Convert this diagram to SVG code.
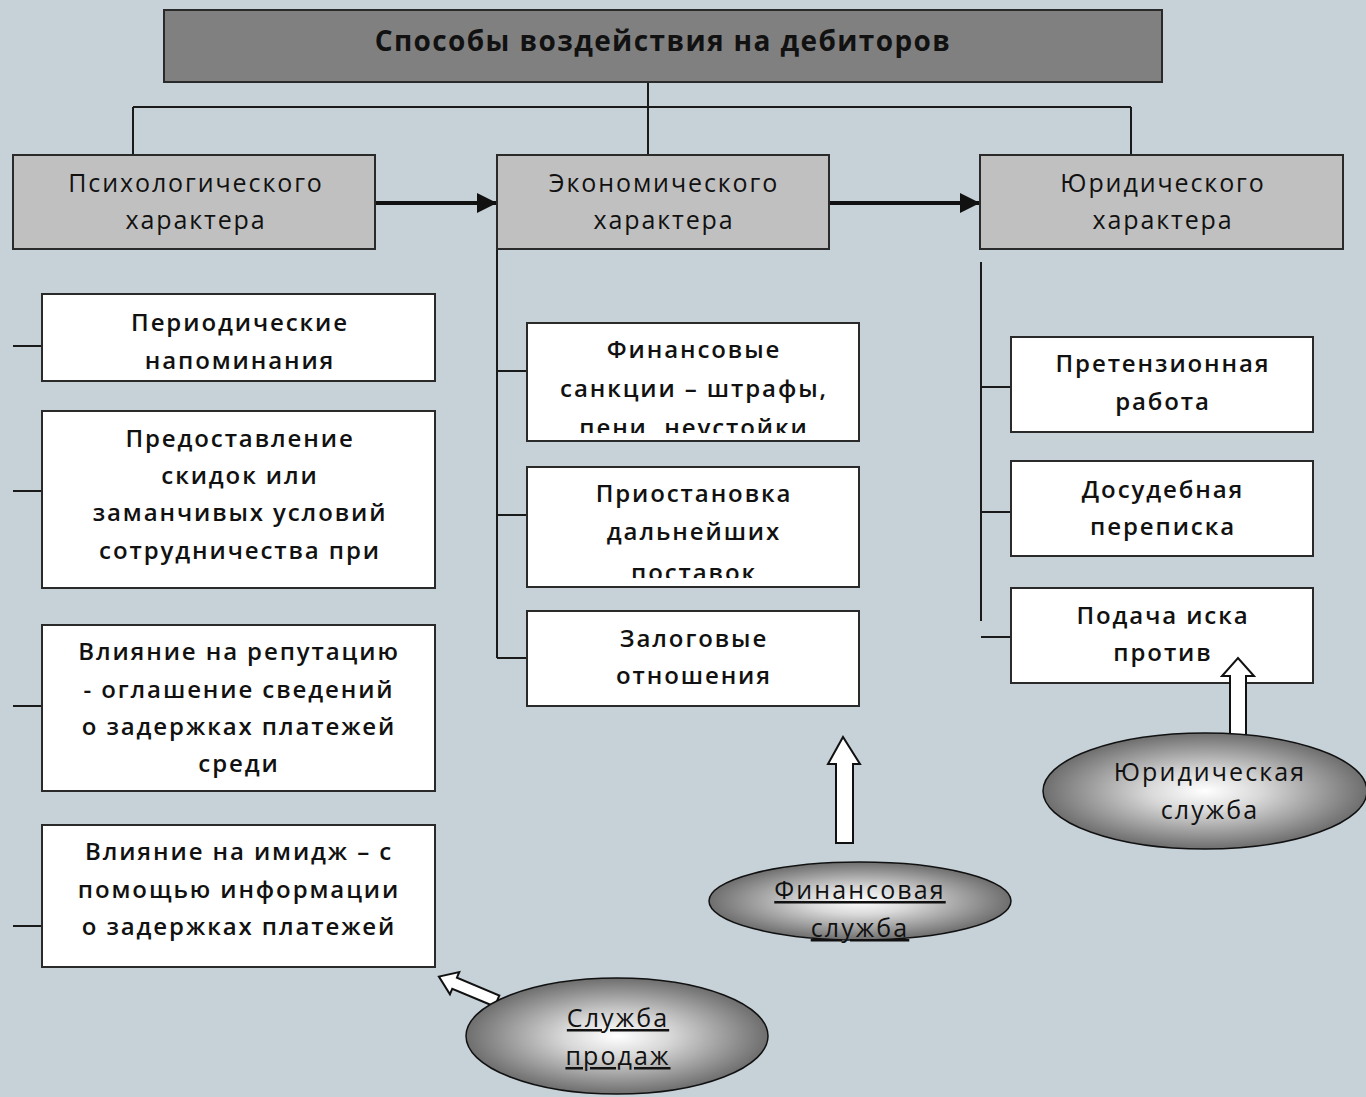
<svg xmlns="http://www.w3.org/2000/svg" width="1366" height="1097" viewBox="0 0 1366 1097">
<style>
.bg{fill:#c6d1d8}
.box{fill:#ffffff;stroke:#2a2a2a;stroke-width:2}
.cat{fill:#c0c0c0;stroke:#2a2a2a;stroke-width:2}
.ttl{fill:#808080;stroke:#2a2a2a;stroke-width:2}
.t{font-family:"Open Sans","DejaVu Sans",sans-serif;font-size:24px;font-weight:600;fill:#111;text-anchor:middle;letter-spacing:1.9px}
.tc{font-family:"Open Sans","DejaVu Sans",sans-serif;font-size:25px;font-weight:400;fill:#111;text-anchor:middle;letter-spacing:1.9px}
.th{font-family:"Open Sans","DejaVu Sans",sans-serif;font-size:28px;font-weight:700;fill:#111;text-anchor:middle;letter-spacing:1.4px}
.te{font-family:"Open Sans","DejaVu Sans",sans-serif;font-size:25px;font-weight:400;fill:#111;text-anchor:middle;letter-spacing:2.1px}
.u{text-decoration:underline}
.ln{stroke:#1a1a1a;stroke-width:2;fill:none}
.thick{stroke:#111;stroke-width:4;fill:none}
.ell{fill:url(#rg);stroke:#111;stroke-width:1.5}
.blk{fill:#ffffff;stroke:#111;stroke-width:2;stroke-linejoin:miter}
</style>
<defs>
<radialGradient id="rg" cx="50%" cy="50%" r="50%">
<stop offset="0" stop-color="#ffffff"/>
<stop offset="0.35" stop-color="#d8d8d8"/>
<stop offset="1" stop-color="#6e6e6e"/>
</radialGradient>
<marker id="ah" viewBox="0 0 10 10" refX="10" refY="5" markerWidth="5" markerHeight="5" orient="auto" markerUnits="strokeWidth">
<path d="M0,0 L10,5 L0,10 Z" fill="#111"/>
</marker>
<clipPath id="c1"><rect x="527" y="323" width="332" height="110"/></clipPath>
<clipPath id="c2"><rect x="527" y="467" width="332" height="111"/></clipPath>
</defs>
<rect class="bg" x="0" y="0" width="1366" height="1097"/>

<g id="connectors">
<path class="ln" d="M648,82 V107 M133,107 H1131 M133,107 V155 M648,107 V155 M1131,107 V155"/>
<path class="ln" d="M13,346 H42 M13,491 H42 M13,706 H42 M13,926 H42"/>
<path class="ln" d="M497,249 V658 M497,371 H527 M497,515 H527 M497,658 H527"/>
<path class="ln" d="M981,262 V621 M981,387 H1011 M981,512 H1011 M981,637 H1011"/>
<line class="thick" x1="375" y1="203" x2="497" y2="203" marker-end="url(#ah)"/>
<line class="thick" x1="829" y1="203" x2="980" y2="203" marker-end="url(#ah)"/>
</g>

<g id="title">
<rect class="ttl" x="164" y="10" width="998" height="72"/>
<text class="th" x="663" y="51">Способы воздействия на дебиторов</text>
</g>

<g id="psych">
<rect class="cat" x="13" y="155" width="362" height="94"/>
<text class="tc" x="196" y="192">Психологического</text>
<text class="tc" x="196" y="229">характера</text>
</g>
<g id="econ">
<rect class="cat" x="497" y="155" width="332" height="94"/>
<text class="tc" x="664" y="192">Экономического</text>
<text class="tc" x="664" y="229">характера</text>
</g>
<g id="jur">
<rect class="cat" x="980" y="155" width="363" height="94"/>
<text class="tc" x="1163" y="192">Юридического</text>
<text class="tc" x="1163" y="229">характера</text>
</g>

<g id="p1">
<rect class="box" x="42" y="294" width="393" height="87"/>
<text class="t" x="240" y="331">Периодические</text>
<text class="t" x="240" y="369">напоминания</text>
</g>
<g id="p2">
<rect class="box" x="42" y="411" width="393" height="177"/>
<text class="t" x="240" y="447">Предоставление</text>
<text class="t" x="240" y="484">скидок или</text>
<text class="t" x="240" y="521">заманчивых условий</text>
<text class="t" x="240" y="559">сотрудничества при</text>
</g>
<g id="p3">
<rect class="box" x="42" y="625" width="393" height="166"/>
<text class="t" x="239" y="660">Влияние на репутацию</text>
<text class="t" x="239" y="698">- оглашение сведений</text>
<text class="t" x="239" y="735">о задержках платежей</text>
<text class="t" x="239" y="772">среди</text>
</g>
<g id="p4">
<rect class="box" x="42" y="825" width="393" height="142"/>
<text class="t" x="239" y="860">Влияние на имидж – с</text>
<text class="t" x="239" y="898">помощью информации</text>
<text class="t" x="239" y="935">о задержках платежей</text>
</g>

<g id="e1">
<rect class="box" x="527" y="323" width="332" height="118"/>
<g clip-path="url(#c1)">
<text class="t" x="694" y="358">Финансовые</text>
<text class="t" x="694" y="397">санкции – штрафы,</text>
<text class="t" x="694" y="436">пени, неустойки</text>
</g>
</g>
<g id="e2">
<rect class="box" x="527" y="467" width="332" height="120"/>
<g clip-path="url(#c2)">
<text class="t" x="694" y="502">Приостановка</text>
<text class="t" x="694" y="540">дальнейших</text>
<text class="t" x="694" y="581">поставок</text>
</g>
</g>
<g id="e3">
<rect class="box" x="527" y="611" width="332" height="95"/>
<text class="t" x="694" y="647">Залоговые</text>
<text class="t" x="694" y="684">отношения</text>
</g>

<g id="j1">
<rect class="box" x="1011" y="337" width="302" height="95"/>
<text class="t" x="1163" y="372">Претензионная</text>
<text class="t" x="1163" y="410">работа</text>
</g>
<g id="j2">
<rect class="box" x="1011" y="461" width="302" height="95"/>
<text class="t" x="1163" y="498">Досудебная</text>
<text class="t" x="1163" y="535">переписка</text>
</g>
<g id="j3">
<rect class="box" x="1011" y="588" width="302" height="95"/>
<text class="t" x="1163" y="624">Подача иска</text>
<text class="t" x="1163" y="661">против</text>
</g>

<g id="fin-service">
<path class="blk" d="M836,843 V764 H828 L843,737 L860,764 H853 V843 Z"/>
<ellipse class="ell" cx="860" cy="901" rx="151" ry="39"/>
<text class="te u" x="860" y="899">Финансовая</text>
<text class="te u" x="860" y="937">служба</text>
</g>
<g id="jur-service">
<path class="blk" d="M1230,735 V676 H1222 L1238,658 L1254,676 H1246 V735 Z"/>
<ellipse class="ell" cx="1205" cy="791" rx="162" ry="58"/>
<text class="te" x="1210" y="781">Юридическая</text>
<text class="te" x="1210" y="819">служба</text>
</g>
<g id="sales-service">
<path class="blk" transform="translate(497,1001) rotate(202.8)" d="M0,-6 H46 V-12 L63,0 L46,12 V6 H0 Z"/>
<ellipse class="ell" cx="617" cy="1036" rx="151" ry="58"/>
<text class="te u" x="618" y="1027">Служба</text>
<text class="te u" x="618" y="1065">продаж</text>
</g>
</svg>
